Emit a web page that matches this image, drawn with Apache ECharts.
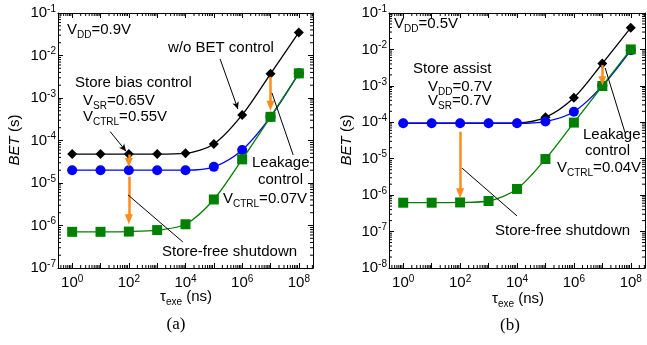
<!DOCTYPE html>
<html><head><meta charset="utf-8">
<script src="https://cdn.jsdelivr.net/npm/echarts@6/dist/echarts.min.js"></script>
<style>html,body{margin:0;padding:0;background:#fff}#c{width:647px;height:345px}</style>
</head><body><div id="c"></div>
<script>
// ---------------- data ----------------
const tauNs = [1, 10, 100, 1e3, 1e4, 1e5, 1e6, 1e7, 1e8];
// panel (a): VDD = 0.9 V
const betA_noCtrl = [4.8e-5, 4.8e-5, 4.8e-5, 4.8e-5, 5.0e-5, 8.3e-5, 4.0e-4, 3.7e-3, 3.5e-2];
const betA_bias   = [2.0e-5, 2.0e-5, 2.0e-5, 2.0e-5, 2.0e-5, 2.4e-5, 6.0e-5, 3.6e-4, 3.8e-3];
const betA_free   = [7.1e-7, 7.1e-7, 7.2e-7, 7.8e-7, 1.07e-6, 4.1e-6, 3.6e-5, 3.6e-4, 3.8e-3];
// panel (b): VDD = 0.5 V
const betB_noCtrl = [9.4e-5, 9.4e-5, 9.4e-5, 9.4e-5, 9.6e-5, 1.37e-4, 4.7e-4, 4.1e-3, 3.95e-2];
const betB_assist = [9.4e-5, 9.4e-5, 9.4e-5, 9.4e-5, 9.4e-5, 1.05e-4, 1.95e-4, 1.0e-3, 9.5e-3];
const betB_free   = [6.2e-7, 6.2e-7, 6.3e-7, 6.9e-7, 1.48e-6, 9.8e-6, 9.8e-5, 9.9e-4, 1.0e-2];
// axis decades (exponents)
const xMajorExp = [0, 1, 2, 3, 4, 5, 6, 7, 8];
const xLabelExp = [0, 2, 4, 6, 8];
const yMajorExpA = [-7, -6, -5, -4, -3, -2, -1];
const yMajorExpB = [-8, -7, -6, -5, -4, -3, -2, -1];

// ---------------- helpers ----------------
const FONT = '"Liberation Sans", Arial, sans-serif';
const SERIF = '"Liberation Serif", "Times New Roman", serif';
const ORANGE = '#FF8C1A';
const supFmt = v => '{b|10}{s|' + v + '}';
const supRich = {
  b: {fontSize: 15, fontFamily: FONT, color: '#000'},
  s: {fontSize: 10, fontFamily: FONT, color: '#000', padding: [0, 0, 8, 0]}
};
function minorVals(lo, hi) {
  const out = [];
  for (let n = Math.floor(lo) - 1; n <= Math.ceil(hi); n++) {
    for (let k = 2; k <= 9; k++) {
      const v = n + Math.log10(k);
      if (v > lo && v < hi) out.push(v);
    }
  }
  return out;
}
function toPts(arr) { return tauNs.map((t, i) => [Math.log10(t), Math.log10(arr[i])]); }

function xAxesFor(g, min, max) {
  const base = {type: 'value', gridIndex: g, min, max, splitLine: {show: false}};
  const line = {show: true, onZero: false, lineStyle: {color: '#000', width: 1}};
  return [
    Object.assign({}, base, {position: 'bottom', axisLine: line,
      axisTick: {show: true, inside: true, length: 5, customValues: xMajorExp, lineStyle: {color: '#000'}},
      axisLabel: {show: true, customValues: xLabelExp, formatter: supFmt, rich: supRich, margin: 6}}),
    Object.assign({}, base, {position: 'top', axisLine: line,
      axisTick: {show: true, inside: true, length: 5, customValues: xMajorExp, lineStyle: {color: '#000'}},
      axisLabel: {show: false}})
  ];
}
function yAxesFor(g, min, max, majors) {
  const base = {type: 'value', gridIndex: g, min, max, interval: 1, splitLine: {show: false}};
  const line = {show: true, onZero: false, lineStyle: {color: '#000', width: 1}};
  return [
    Object.assign({}, base, {position: 'left', axisLine: line,
      axisTick: {show: true, inside: true, length: 5, customValues: majors, lineStyle: {color: '#000'}},
      axisLabel: {show: true, customValues: majors, formatter: supFmt, rich: supRich, margin: 2}}),
    Object.assign({}, base, {position: 'right', axisLine: line,
      axisTick: {show: true, inside: true, length: 5, customValues: majors, lineStyle: {color: '#000'}},
      axisLabel: {show: false}})
  ];
}

// minor log ticks on all four sides, placed through the axes' own scales
function minorTickSeries(ax, xr, yr) {
  const data = [];
  minorVals(xr[0], xr[1]).forEach(v => { data.push([v, 0]); data.push([v, 1]); });
  minorVals(yr[0], yr[1]).forEach(v => { data.push([v, 2]); data.push([v, 3]); });
  return {
    type: 'custom', xAxisIndex: ax, yAxisIndex: ax, silent: true, animation: false, z: 1, clip: false,
    data,
    renderItem: function (params, api) {
      const v = api.value(0), side = api.value(1), L = 3;
      let p, q;
      if (side === 0) { p = api.coord([v, yr[0]]); q = [p[0], p[1] - L]; }
      else if (side === 1) { p = api.coord([v, yr[1]]); q = [p[0], p[1] + L]; }
      else if (side === 2) { p = api.coord([xr[0], v]); q = [p[0] + L, p[1]]; }
      else { p = api.coord([xr[1], v]); q = [p[0] - L, p[1]]; }
      return {type: 'line', shape: {x1: p[0], y1: p[1], x2: q[0], y2: q[1]},
        style: {stroke: '#000', lineWidth: 1}};
    }
  };
}

function lineSeries(ax, arr, symbol, size, color, z) {
  return {type: 'line', xAxisIndex: ax, yAxisIndex: ax, data: toPts(arr), symbol, symbolSize: size,
    showSymbol: true, smooth: 0.3, z, silent: true, animation: false,
    lineStyle: {color, width: 1.3}, itemStyle: {color, borderWidth: 0}};
}
function seg(p1, p2, color, width, endSym, endSize) {
  return [
    {coord: p1, symbol: 'none', lineStyle: {color, width, type: 'solid'}},
    {coord: p2, symbol: endSym, symbolSize: endSize}
  ];
}
function markLines(list) {
  return {silent: true, animation: false, symbol: ['none', 'none'], label: {show: false},
    emphasis: {disabled: true}, data: list};
}

// annotations in data coordinates (log10 tau, log10 BET)
const annA = [
  seg([2, -4.33], [2, -4.52], ORANGE, 2.5, 'triangle', [8, 9]),
  seg([2, -4.85], [2, -5.85], ORANGE, 2.5, 'triangle', [8, 10]),
  seg([7, -2.50], [7, -3.18], ORANGE, 2.5, 'triangle', [8, 10]),
  seg([5.22, -2.08], [5.85, -3.26], '#000', 1, 'arrow', [5, 7]),
  seg([1.34, -3.79], [1.90, -4.25], '#000', 1, 'arrow', [5, 7]),
  seg([7.05, -2.88], [7.80, -4.34], '#000', 1, 'none', 1),
  seg([1.97, -5.28], [3.91, -6.39], '#000', 1, 'none', 1)
];
const annB = [
  seg([2, -4.26], [2, -5.95], ORANGE, 2.5, 'triangle', [8, 10]),
  seg([7, -2.43], [7, -2.86], ORANGE, 2.5, 'triangle', [8, 9]),
  seg([7.10, -2.51], [7.80, -4.29], '#000', 1, 'none', 1),
  seg([2.07, -5.26], [4.00, -6.57], '#000', 1, 'none', 1)
];

const sA = [
  minorTickSeries(0, [-0.5, 8.5], [-7, -1]),
  lineSeries(0, betA_noCtrl, 'diamond', 10, '#000', 2),
  lineSeries(0, betA_bias, 'circle', 10, '#0000FF', 3),
  Object.assign(lineSeries(0, betA_free, 'rect', 10, '#008000', 4), {markLine: markLines(annA)})
];
const sB = [
  minorTickSeries(2, [-0.5, 8.5], [-8, -1]),
  lineSeries(2, betB_noCtrl, 'diamond', 10, '#000', 2),
  lineSeries(2, betB_assist, 'circle', 10, '#0000FF', 3),
  Object.assign(lineSeries(2, betB_free, 'rect', 10, '#008000', 4), {markLine: markLines(annB)})
];

// ---------------- texts ----------------
const txtRich = {
  n: {fontSize: 15, fontFamily: FONT, fill: '#000'},
  d: {fontSize: 10, fontFamily: FONT, fill: '#000', padding: [10, 0, 0, 0]},
  i: {fontSize: 15, fontFamily: FONT, fill: '#000', fontStyle: 'italic'}
};
function T(x, y, text, extra) {
  return Object.assign({type: 'text', x, y, silent: true, z: 100,
    style: Object.assign({text, rich: txtRich, fontSize: 15, fontFamily: FONT, fill: '#000',
      align: 'left', verticalAlign: 'middle'}, extra || {})});
}
const graphics = [
  // panel (a)
  T(67, 30, '{n|V}{d|DD}{n|=0.9V}'),
  T(168, 48, '{n|w/o BET control}'),
  T(75, 83, '{n|Store bias control}'),
  T(83, 101, '{n|V}{d|SR}{n|=0.65V}'),
  T(83, 117, '{n|V}{d|CTRL}{n|=0.55V}'),
  T(252, 163, '{n|Leakage}'),
  T(258, 180, '{n|control}'),
  T(223, 199, '{n|V}{d|CTRL}{n|=0.07V}'),
  T(162, 252, '{n|Store-free shutdown}'),
  // panel (b)
  T(394, 24, '{n|V}{d|DD}{n|=0.5V}'),
  T(413, 69, '{n|Store assist}'),
  T(428, 87, '{n|V}{d|DD}{n|=0.7V}'),
  T(428, 101, '{n|V}{d|SR}{n|=0.7V}'),
  T(583, 135, '{n|Leakage}'),
  T(585, 151, '{n|control}'),
  T(557, 168, '{n|V}{d|CTRL}{n|=0.04V}'),
  T(495, 231, '{n|Store-free shutdown}'),
  // axis names
  Object.assign(T(15, 140, '{i|BET}{n| (s)}', {align: 'center'}), {rotation: Math.PI / 2}),
  Object.assign(T(347, 140, '{i|BET}{n| (s)}', {align: 'center'}), {rotation: Math.PI / 2}),
  T(186, 297, '{n|τ}{d|exe}{n| (ns)}', {align: 'center'}),
  T(518, 299, '{n|τ}{d|exe}{n| (ns)}', {align: 'center'}),
  T(176, 325, '(a)', {align: 'center', fontFamily: SERIF, fontSize: 17, rich: undefined}),
  T(510, 326, '(b)', {align: 'center', fontFamily: SERIF, fontSize: 17, rich: undefined})
];

const chart = echarts.init(document.getElementById('c'), null, {renderer: 'canvas'});
chart.setOption({
  animation: false,
  backgroundColor: '#fff',
  grid: [
    {left: 58, top: 13, width: 255, height: 255, containLabel: false},
    {left: 389, top: 13, width: 256, height: 255, containLabel: false}
  ],
  xAxis: xAxesFor(0, -0.5, 8.5).concat(xAxesFor(1, -0.5, 8.5)),
  yAxis: yAxesFor(0, -7, -1, yMajorExpA).concat(yAxesFor(1, -8, -1, yMajorExpB)),
  series: sA.concat(sB),
  graphic: graphics
});
</script></body></html>
